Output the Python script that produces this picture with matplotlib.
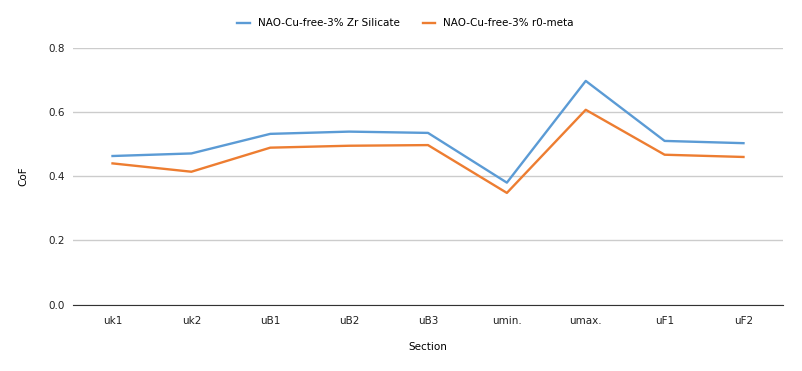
import numpy as np
import matplotlib
matplotlib.use("Agg")
import matplotlib.pyplot as plt

sections = ["uk1", "uk2", "uB1", "uB2", "uB3", "umin.", "umax.", "uF1", "uF2"]
zr_silicate = [0.463, 0.471, 0.532, 0.539, 0.535, 0.380, 0.697, 0.510, 0.503]
r0_meta = [0.440, 0.414, 0.489, 0.495, 0.497, 0.348, 0.607, 0.467, 0.460]
yticks = [0.0, 0.2, 0.4, 0.6, 0.8]

plt.rcParams['font.family'] = ['DejaVu Sans']

fig = plt.figure(figsize=(8.03, 3.71), dpi=100)
ax = fig.add_axes([0.091, 0.179, 0.884, 0.692])

x = np.arange(len(sections))
ax.plot(x, zr_silicate, color="#5b9bd5", lw=1.7, label="NAO-Cu-free-3% Zr Silicate")
ax.plot(x, r0_meta, color="#ed7d31", lw=1.7, label="NAO-Cu-free-3% r0-meta")

ax.set_xlim(-0.5, len(sections) - 0.5)
ax.set_ylim(0, 0.8)
ax.set_yticks(yticks)
ax.set_yticklabels([f"{v:.1f}" for v in yticks])
ax.set_xticks(x)
ax.set_xticklabels(sections)
ax.yaxis.grid(True, color="#cccccc", lw=1)
ax.set_axisbelow(True)
for s in ["top", "right", "left"]:
    ax.spines[s].set_visible(False)
ax.spines["bottom"].set_color("#333333")
ax.tick_params(axis="both", length=0, labelsize=7.5, colors="#222222")
ax.tick_params(axis="x", pad=8)
ax.tick_params(axis="y", pad=6)

ax.set_xlabel("Section", fontsize=7.5, labelpad=12)
ax.set_ylabel("CoF", fontsize=7.5, labelpad=14)

fig.legend(loc="center", bbox_to_anchor=(0.505, 0.937), ncol=2, frameon=False,
           fontsize=7.5, handlelength=1.2, columnspacing=2.2, handletextpad=0.8)

fig.savefig("out.png", dpi=100)
